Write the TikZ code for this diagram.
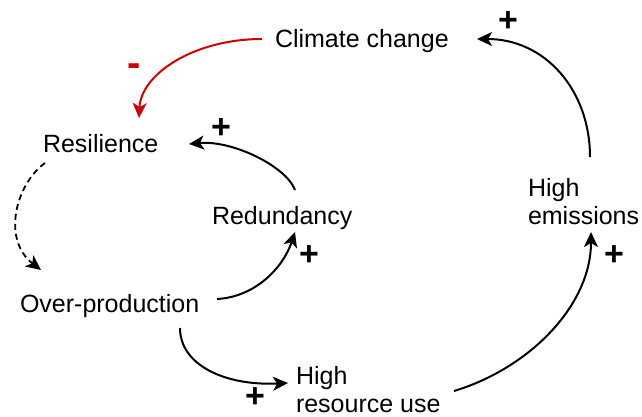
\documentclass[tikz,border=0pt]{standalone}
\usepackage{fontspec}
\setmainfont{Liberation Sans}
\usetikzlibrary{arrows.meta}
\definecolor{cldred}{RGB}{204,0,0}
\begin{document}
\begin{tikzpicture}[x=1pt,y=-1pt,
  lbl/.style={font=\fontsize{25}{28}\selectfont, inner sep=0pt, outer sep=0pt},
  sign/.style={font=\fontsize{34}{34}\selectfont\bfseries, inner sep=0pt, text height=17pt, text depth=0pt},
  link/.style={line width=2pt, -{Stealth[length=15pt,width=14pt,inset=4pt]}},
]
\useasboundingbox (0,0) rectangle (642,416);
% nodes
\node[lbl, anchor=base west] (cc) at (275,47) {Climate change};
\node[lbl, anchor=base west] (res) at (43,152) {Resilience};
\node[lbl, anchor=base west] (red) at (212,224) {Redundancy};
\node[lbl, anchor=base west] (op) at (20,312) {Over-production};
\node[lbl, anchor=north west, align=left] (he) at (528,178) {High\\emissions};
\node[lbl, anchor=north west, align=left] (hru) at (296,366) {High\\resource use};
% signs
\node[sign, font=\fontsize{40}{40}\selectfont\bfseries, text=cldred] (sm) at (134,68) {-};
\node[sign] (s1) at (508,23) {+};
\node[sign] (s2) at (221,130) {+};
\node[sign] (s3) at (309,257) {+};
\node[sign] (s4) at (614,257) {+};
\node[sign] (s5) at (255,399) {+};
% connectors
\draw[link, cldred] ([shift={(-13,-8)}]cc.base west) .. controls (194,39) and (141,74) .. ([shift={(96,-34)}]res.base west);
\draw[link] ([shift={(62,-21)}]he.north west) .. controls (590,90) and (545,39) .. ([shift={(202,-8)}]cc.base west);
\draw[link] ([shift={(83,-34)}]red.base west) .. controls (286,166) and (232,140) .. ([shift={(146,-8)}]res.base west);
\draw[link] ([shift={(197,-13)}]op.base west) .. controls (255,297) and (283,268) .. ([shift={(83,8)}]red.base west);
\draw[link] ([shift={(160,16)}]op.base west) .. controls (180,365) and (225,386) .. ([shift={(-8,17)}]hru.north west);
\draw[link] ([shift={(158,25)}]hru.north west) .. controls (530,368) and (591,305) .. ([shift={(63,54)}]he.north west);
\draw[link, line width=1.8pt, dash pattern=on 6pt off 4pt] ([shift={(2,11)}]res.base west) .. controls (15,185) and (2,240) .. ([shift={(21,-42)}]op.base west);
\end{tikzpicture}
\end{document}
